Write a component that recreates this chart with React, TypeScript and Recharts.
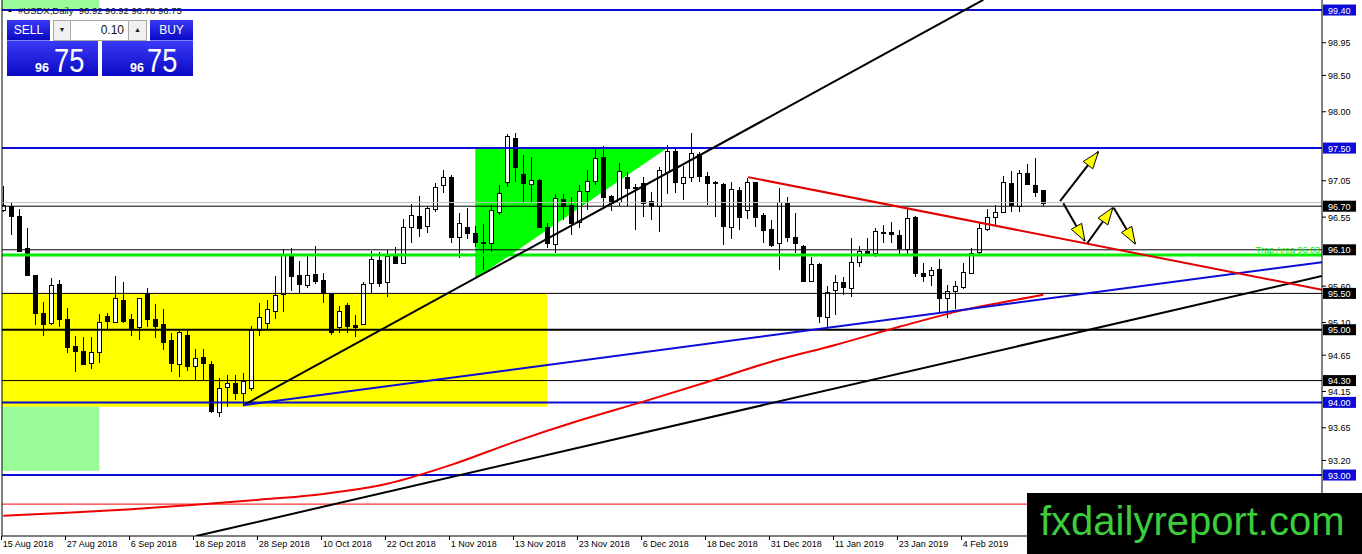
import React from "react";
import {
  ComposedChart,
  Bar,
  Line,
  Area,
  XAxis,
  YAxis,
  ReferenceLine,
  ReferenceArea,
} from "recharts";

// daily candles, bar 0 = 15 Aug 2018
const open = [
  96.65, 96.7, 96.57, 96.13, 95.75, 95.23, 95.09, 95.63, 95.15, 94.78,
  94.71, 94.54, 94.7, 95.19, 95.11, 95.41, 95.15, 95.04, 95.51, 95.15,
  95.08, 94.86, 94.53, 94.93, 94.5, 94.63, 94.53, 93.87, 94.21, 94.26,
  94.13, 94.2, 95.0, 95.09, 95.26, 95.49, 96.03, 95.75, 95.62, 95.77,
  95.69, 95.51, 95.04, 95.34, 95.07, 95.08, 95.64, 95.96, 95.65, 96.02,
  95.92, 96.41, 96.57, 96.43, 96.66, 96.99, 97.1, 96.28, 96.42, 96.33,
  96.21, 96.2, 96.62, 97.04, 97.64, 97.15, 97.01, 97.06, 96.42, 96.18,
  96.8, 96.72, 96.48, 96.91, 97.05, 97.38, 96.84, 96.76, 97.1, 96.96,
  97.02, 96.77, 96.7, 97.17, 97.46, 97.02, 97.1, 97.42, 97.12, 97.03,
  97.01, 96.42, 96.92, 96.65, 97.03, 96.58, 96.39, 96.2, 96.75, 96.28,
  96.15, 95.67, 95.91, 95.18, 95.54, 95.65, 95.58, 95.93, 96.09, 96.06,
  96.35, 96.35, 96.3, 96.11, 96.55, 95.78, 95.75, 95.84, 95.44, 95.53,
  95.59, 95.78, 96.07, 96.39, 96.55, 96.62, 97.02, 96.7, 97.16, 96.99,
  96.92,
];
const high = [
  96.98, 96.76, 96.66, 96.4, 95.76, 95.38, 95.71, 95.69, 95.3, 94.92,
  94.9, 94.9, 95.22, 95.23, 95.74, 95.66, 95.22, 95.44, 95.58, 95.36,
  95.29, 94.96, 94.98, 94.98, 94.74, 94.74, 94.57, 94.34, 94.38, 94.38,
  94.4, 95.05, 95.37, 95.41, 95.74, 96.11, 96.13, 95.95, 96.02, 96.15,
  95.78, 95.51, 95.33, 95.37, 95.2, 95.66, 96.08, 96.07, 96.1, 96.14,
  96.52, 96.73, 96.84, 96.7, 97.02, 97.2, 97.13, 96.6, 96.68, 96.43,
  96.45, 96.72, 96.99, 97.7, 97.71, 97.41, 97.38, 97.08, 96.47, 96.87,
  96.87, 96.83, 96.99, 97.2, 97.5, 97.53, 96.85, 97.3, 97.17, 97.0,
  97.1, 96.9, 97.24, 97.54, 97.5, 97.26, 97.71, 97.44, 97.17, 97.05,
  97.02, 97.04, 96.97, 97.09, 97.04, 96.61, 96.51, 96.95, 96.82, 96.61,
  96.16, 96.0, 95.92, 95.6, 95.76, 95.73, 96.26, 96.15, 96.26, 96.4,
  96.44, 96.48, 96.37, 96.68, 96.56, 95.92, 95.86, 95.98, 95.62, 95.67,
  95.92, 96.13, 96.47, 96.66, 96.72, 97.12, 97.19, 97.2, 97.28, 97.36,
  96.92,
];
const low = [
  96.62, 96.3, 96.07, 95.74, 95.07, 94.92, 95.07, 95.04, 94.68, 94.42,
  94.52, 94.46, 94.54, 95.01, 95.09, 95.09, 94.92, 94.86, 95.04, 94.89,
  94.72, 94.42, 94.35, 94.43, 94.31, 94.31, 93.86, 93.8, 93.94, 94.03,
  93.96, 94.15, 94.92, 95.01, 95.15, 95.25, 95.53, 95.51, 95.58, 95.63,
  95.37, 94.93, 94.96, 94.96, 94.9, 95.07, 95.49, 95.59, 95.45, 95.92,
  95.91, 96.2, 96.28, 96.33, 96.62, 96.88, 96.2, 95.99, 96.25, 96.14,
  95.82, 96.07, 96.58, 96.97, 97.04, 96.75, 96.76, 96.4, 96.13, 96.06,
  96.51, 96.3, 96.4, 96.65, 96.99, 96.68, 96.64, 96.7, 96.7, 96.37,
  96.55, 96.51, 96.35, 96.87, 96.88, 96.79, 97.04, 97.04, 96.71, 96.55,
  96.17, 96.25, 96.37, 96.53, 96.42, 96.2, 96.14, 95.82, 96.21, 96.06,
  95.65, 95.65, 95.09, 95.04, 95.2, 95.48, 95.45, 95.86, 96.03, 96.0,
  96.2, 96.2, 96.04, 96.04, 95.73, 95.65, 95.6, 95.25, 95.16, 95.28,
  95.56, 95.77, 96.03, 96.36, 96.44, 96.61, 96.62, 96.62, 96.99, 96.83,
  96.7,
];
const close = [
  96.72, 96.57, 96.09, 95.76, 95.23, 95.08, 95.62, 95.15, 94.76, 94.71,
  94.53, 94.7, 95.11, 95.12, 95.44, 95.12, 95.03, 95.43, 95.15, 95.05,
  94.83, 94.54, 94.97, 94.5, 94.61, 94.54, 93.88, 94.2, 94.27, 94.13,
  94.3, 95.0, 95.18, 95.29, 95.48, 96.03, 95.74, 95.63, 95.75, 95.67,
  95.51, 94.97, 95.26, 95.05, 95.04, 95.63, 95.97, 95.64, 96.02, 95.92,
  96.41, 96.58, 96.4, 96.68, 96.97, 97.1, 96.28, 96.47, 96.33, 96.21,
  96.19, 96.65, 96.88, 97.67, 97.24, 97.02, 97.06, 96.42, 96.2, 96.81,
  96.7, 96.47, 96.91, 97.05, 97.37, 96.83, 96.75, 97.19, 96.95, 96.95,
  96.75, 96.7, 97.2, 97.46, 97.03, 97.1, 97.43, 97.12, 97.02, 97.02,
  96.43, 96.94, 96.55, 97.03, 96.55, 96.37, 96.17, 96.76, 96.27, 96.2,
  95.67, 95.91, 95.19, 95.52, 95.65, 95.59, 95.93, 96.08, 96.06, 96.36,
  96.33, 96.32, 96.13, 96.54, 95.78, 95.74, 95.82, 95.43, 95.53, 95.6,
  95.8, 96.06, 96.4, 96.55, 96.62, 97.04, 96.72, 97.16, 97.01, 96.9,
  96.75,
];

const dateTickBars = [0, 8, 16, 24, 32, 40, 48, 56, 64, 72, 80, 88, 96, 104, 112, 120];
const dateLabels = [
  "15 Aug 2018", "27 Aug 2018", "6 Sep 2018", "18 Sep 2018", "28 Sep 2018",
  "10 Oct 2018", "22 Oct 2018", "1 Nov 2018", "13 Nov 2018", "23 Nov 2018",
  "6 Dec 2018", "18 Dec 2018", "31 Dec 2018", "11 Jan 2019", "23 Jan 2019",
  "4 Feb 2019",
];

const priceTicks = [98.95, 98.5, 98.0, 97.05, 96.55, 95.6, 95.1, 94.65, 94.15, 93.65, 93.2, 92.7];
const levelPrices = [99.4, 97.5, 96.7, 96.1, 95.5, 95.0, 94.3, 94.0, 93.0];

// moving average read every 8 bars
const maBars = [0, 8, 16, 24, 32, 40, 48, 56, 64, 72, 80, 88, 96, 104, 112, 120, 128, 130];
const maValues = [
  92.44, 92.48, 92.53, 92.59, 92.66, 92.74, 92.88, 93.14, 93.46,
  93.75, 94.01, 94.28, 94.56, 94.79, 95.04, 95.27, 95.44, 95.48,
];

const trendSteep = [{ i: 30, v: 93.96 }, { i: 122.5, v: 99.54 }];
const trendLong = [{ i: 24.1, v: 92.16 }, { i: 164.84, v: 95.74 }];
const trendBlue = [{ i: 30, v: 93.96 }, { i: 164.84, v: 95.93 }];
const trendRed = [{ i: 93.1, v: 97.1 }, { i: 164.84, v: 95.55 }];
const trapTriangle = [{ i: 59, band: [95.7, 97.5] }, { i: 83, band: [97.5, 97.5] }];

const arrowA = [{ i: 132.1, v: 96.77 }, { i: 136.9, v: 97.45 }];
const arrowB = [{ i: 132.5, v: 96.74 }, { i: 135.2, v: 96.22 }];
const arrowC = [{ i: 135.5, v: 96.19 }, { i: 138.7, v: 96.68 }];
const arrowD = [{ i: 138.8, v: 96.68 }, { i: 141.5, v: 96.18 }];

const X_MIN = -0.16;
const X_MAX = 164.84;
const Y_MIN = 92.161;
const Y_MAX = 99.538;

const BLUE = "#0c0cd6";
const FONT = "'Liberation Sans', Arial, sans-serif";
const blueLevels = [99.4, 97.5, 94.0, 93.0];

const candles = open.map((o, i) => ({ i, o, h: high[i], l: low[i], c: close[i] }));
const maPoints = maBars.map((i, k) => ({ i, v: maValues[k] }));

function Candle(props: any) {
  const { x, y, width, height, payload } = props;
  if (!payload) return null;
  const { o, h, l, c } = payload;
  const yTop = Math.min(y, y + height);
  const yBot = Math.max(y, y + height);
  const toY = (v: number) => yTop + ((h - v) / (h - l || 1)) * (yBot - yTop);
  const cx = Math.floor(x + width / 2) + 0.5;
  const bTop = Math.round(toY(Math.max(o, c))) + 0.5;
  const bBot = Math.round(toY(Math.min(o, c))) + 0.5;
  const up = c >= o;
  return (
    <g shapeRendering="crispEdges">
      <line x1={cx} x2={cx} y1={Math.round(yTop)} y2={Math.round(yBot)} stroke="#000" strokeWidth={1} />
      <rect
        x={cx - 2}
        y={bTop}
        width={4}
        height={Math.max(bBot - bTop, 1)}
        fill={up ? "#fff" : "#000"}
        stroke="#000"
        strokeWidth={1}
      />
    </g>
  );
}

function makeArrowHead() {
  let prev: { x: number; y: number } | null = null;
  return (props: any) => {
    const { cx, cy, index, points } = props;
    if (index === 0) {
      prev = { x: cx, y: cy };
      return <g />;
    }
    const from = points && points[0] ? points[0] : prev;
    if (!from) return <g />;
    const dx = cx - from.x;
    const dy = cy - from.y;
    const len = Math.hypot(dx, dy) || 1;
    const ux = dx / len;
    const uy = dy / len;
    const bx = cx - ux * 17;
    const by = cy - uy * 17;
    const pts = `${cx},${cy} ${bx - uy * 6},${by + ux * 6} ${bx + uy * 6},${by - ux * 6}`;
    return <polygon points={pts} fill="#ffff00" stroke="#000" strokeWidth={1} />;
  };
}
const headA = makeArrowHead();
const headB = makeArrowHead();
const headC = makeArrowHead();
const headD = makeArrowHead();

function DateTick(props: any) {
  const { x, y, payload } = props;
  const k = dateTickBars.indexOf(payload.value);
  const tx = Math.floor(x) - 1.5;
  return (
    <g>
      <line x1={tx} x2={tx} y1={y} y2={y + 4} stroke="#000" />
      <text x={x - 0.5} y={y + 11} fontSize={9} fontFamily={FONT} fill="#000">
        {dateLabels[k]}
      </text>
    </g>
  );
}

function PriceTick(props: any) {
  const { x, y, payload } = props;
  const v = payload.value as number;
  const label = v.toFixed(2);
  if (levelPrices.includes(v)) {
    const bg = blueLevels.includes(v) ? BLUE : "#000";
    return (
      <g>
        <rect x={x + 1} y={y - 5.5} width={33} height={11} fill={bg} />
        <text x={x + 6} y={y + 3.5} fontSize={9} fontFamily={FONT} fill="#fff">
          {label}
        </text>
      </g>
    );
  }
  return (
    <g>
      <line x1={x} x2={x + 4} y1={y} y2={y} stroke="#000" />
      <text x={x + 6} y={y + 3.5} fontSize={9} fontFamily={FONT} fill="#000">
        {label}
      </text>
    </g>
  );
}

function TrapLabel(props: any) {
  const { viewBox } = props;
  if (!viewBox) return null;
  return (
    <text x={viewBox.x + viewBox.width - 2} y={viewBox.y - 2} textAnchor="end" fontSize={9} fontFamily={FONT} fill="#00ee00">
      Trap Area   96.03
    </text>
  );
}

const btnBlue = "linear-gradient(#3a3af6, #0a0ac4)";

export default function App() {
  return (
    <div style={{ position: "absolute", left: 0, top: 0, width: 1362, height: 554, background: "#fff", overflow: "hidden" }}>
      <ComposedChart width={1362} height={554} data={candles} margin={{ top: 0, right: 0, bottom: 0, left: 2 }}>
        <ReferenceArea x1={X_MIN} x2={68} y1={93.94} y2={95.5} fill="#ffff00" fillOpacity={1} stroke="none" />
        <ReferenceArea x1={X_MIN} x2={12} y1={93.06} y2={93.94} fill="#98fb98" fillOpacity={1} stroke="none" />
        <ReferenceArea x1={X_MIN} x2={12} y1={99.4} y2={Y_MAX} fill="#98fb98" fillOpacity={1} stroke="none" />
        <Area data={trapTriangle} dataKey="band" type="linear" fill="#00ff00" fillOpacity={1} stroke="none" isAnimationActive={false} />

        <Bar dataKey={(d: any) => [d.l, d.h]} shape={(p: any) => <Candle {...p} />} barSize={5} isAnimationActive={false} />

        <ReferenceLine y={99.4} stroke={BLUE} strokeWidth={2} />
        <ReferenceLine y={97.5} stroke={BLUE} strokeWidth={2} />
        <ReferenceLine y={96.75} stroke="#c0c0c0" strokeWidth={1} />
        <ReferenceLine y={96.7} stroke="#000" strokeWidth={1} />
        <ReferenceLine y={96.1} stroke="#000" strokeWidth={1} />
        <ReferenceLine y={96.03} stroke="#00ee00" strokeWidth={3} label={<TrapLabel />} />
        <ReferenceLine y={95.5} stroke="#000" strokeWidth={1} />
        <ReferenceLine y={95.0} stroke="#000" strokeWidth={2} />
        <ReferenceLine y={94.3} stroke="#000" strokeWidth={1} />
        <ReferenceLine y={94.0} stroke={BLUE} strokeWidth={2} />
        <ReferenceLine y={93.0} stroke={BLUE} strokeWidth={2} />
        <ReferenceLine y={92.6} stroke="#ff0000" strokeWidth={1} />
        <ReferenceLine x={X_MIN} stroke="#000" strokeWidth={1} />

        <Line data={maPoints} dataKey="v" type="monotone" stroke="#ee0000" strokeWidth={2} dot={false} activeDot={false} isAnimationActive={false} />
        <Line data={trendSteep} dataKey="v" type="linear" stroke="#000" strokeWidth={2} dot={false} activeDot={false} isAnimationActive={false} />
        <Line data={trendLong} dataKey="v" type="linear" stroke="#000" strokeWidth={2} dot={false} activeDot={false} isAnimationActive={false} />
        <Line data={trendBlue} dataKey="v" type="linear" stroke={BLUE} strokeWidth={2} dot={false} activeDot={false} isAnimationActive={false} />
        <Line data={trendRed} dataKey="v" type="linear" stroke="#e00000" strokeWidth={2} dot={false} activeDot={false} isAnimationActive={false} />

        <Line data={arrowA} dataKey="v" type="linear" stroke="#000" strokeWidth={2} dot={headA} activeDot={false} isAnimationActive={false} />
        <Line data={arrowB} dataKey="v" type="linear" stroke="#000" strokeWidth={2} dot={headB} activeDot={false} isAnimationActive={false} />
        <Line data={arrowC} dataKey="v" type="linear" stroke="#000" strokeWidth={2} dot={headC} activeDot={false} isAnimationActive={false} />
        <Line data={arrowD} dataKey="v" type="linear" stroke="#000" strokeWidth={2} dot={headD} activeDot={false} isAnimationActive={false} />

        <XAxis
          dataKey="i"
          type="number"
          domain={[X_MIN, X_MAX]}
          allowDataOverflow
          ticks={dateTickBars}
          interval={0}
          tick={(p: any) => <DateTick {...p} />}
          tickLine={false}
          tickSize={0}
          tickMargin={0}
          height={18}
          axisLine={{ stroke: "#000" }}
        />
        <YAxis
          orientation="right"
          type="number"
          domain={[Y_MIN, Y_MAX]}
          allowDataOverflow
          ticks={[...priceTicks, ...levelPrices]}
          interval={0}
          tick={(p: any) => <PriceTick {...p} />}
          tickLine={false}
          tickSize={0}
          tickMargin={0}
          width={40}
          axisLine={{ stroke: "#000" }}
        />
      </ComposedChart>

      {/* title */}
      <div style={{ position: "absolute", left: 7, top: 6, fontSize: 6, lineHeight: "8px", fontFamily: FONT }}>▲</div>
      <div style={{ position: "absolute", left: 18, top: 4, fontSize: 9.5, lineHeight: "14px", fontFamily: FONT, color: "#111", whiteSpace: "pre" }}>
        {"#USDX,Daily  96.92 96.92 96.78 96.75"}
      </div>

      {/* one click trading panel */}
      <div style={{ position: "absolute", left: 7, top: 20, width: 43, height: 21, background: btnBlue, color: "#fff", fontFamily: FONT, fontSize: 12, lineHeight: "21px", textAlign: "center", borderBottom: "1px solid #8080ff", boxSizing: "border-box" }}>SELL</div>
      <div style={{ position: "absolute", left: 53, top: 20, width: 18, height: 21, background: "#f0f0f0", border: "1px solid #a8a8a8", boxSizing: "border-box", fontSize: 7, lineHeight: "19px", textAlign: "center", color: "#222" }}>▼</div>
      <div style={{ position: "absolute", left: 71, top: 20, width: 57, height: 21, background: "#fff", borderTop: "1px solid #a8a8a8", borderBottom: "1px solid #a8a8a8", boxSizing: "border-box", fontFamily: FONT, fontSize: 12, lineHeight: "19px", textAlign: "right", paddingRight: 4, color: "#111" }}>0.10</div>
      <div style={{ position: "absolute", left: 128, top: 20, width: 19, height: 21, background: "#f0f0f0", border: "1px solid #a8a8a8", boxSizing: "border-box", fontSize: 7, lineHeight: "19px", textAlign: "center", color: "#222" }}>▲</div>
      <div style={{ position: "absolute", left: 150, top: 20, width: 43, height: 21, background: btnBlue, color: "#fff", fontFamily: FONT, fontSize: 12, lineHeight: "21px", textAlign: "center", borderBottom: "1px solid #8080ff", boxSizing: "border-box" }}>BUY</div>
      {[7, 102].map((left, k) => (
        <div key={k} style={{ position: "absolute", left, top: 41, width: 91, height: 35, background: btnBlue, color: "#fff", fontFamily: FONT }}>
          <span style={{ position: "absolute", left: k === 0 ? 28 : 28, top: 20, fontSize: 12.5, fontWeight: "bold", lineHeight: "14px" }}>96</span>
          <span style={{ position: "absolute", left: k === 0 ? 47 : 45, top: 1, fontSize: 34, lineHeight: "36px", transform: "scaleX(0.8)", transformOrigin: "left" }}>75</span>
        </div>
      ))}

      {/* watermark */}
      <div style={{ position: "absolute", left: 1027, top: 493, width: 335, height: 61, background: "#000" }}>
        <div style={{ position: "absolute", left: 13, top: 8, fontFamily: FONT, fontSize: 40, lineHeight: "40px", color: "#3ccc3c", whiteSpace: "nowrap" }}>
          fxdailyreport.com
        </div>
      </div>
    </div>
  );
}
